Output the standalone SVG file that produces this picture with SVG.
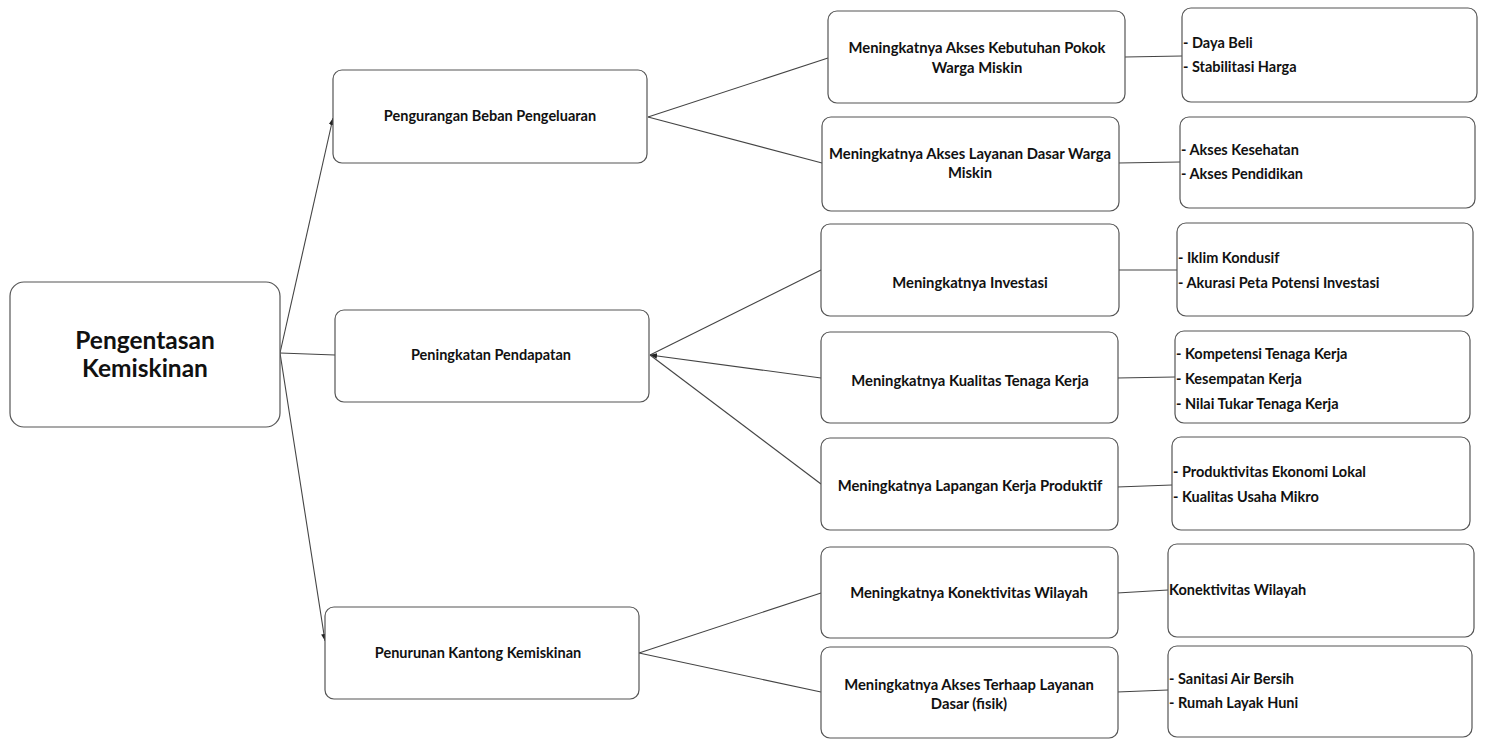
<svg xmlns="http://www.w3.org/2000/svg" width="1485" height="739" viewBox="0 0 1485 739">
<defs>
<marker id="arr" viewBox="0 0 10 10" refX="10" refY="5" markerWidth="7" markerHeight="7" orient="auto" markerUnits="userSpaceOnUse"><path d="M0,1 L10,5 L0,9 Z" fill="#222"/></marker>
<style>
.box{fill:#fff;stroke:#555;stroke-width:1.2}
.t{font-family:Lato,"Liberation Sans",sans-serif;font-weight:bold;fill:#111}
.root{font-size:24.5px;text-anchor:middle}
.l1{font-size:14.5px;text-anchor:middle}
.l2{font-size:14.8px;text-anchor:middle}
.l3{font-size:14.5px}
.c{fill:none;stroke:#444;stroke-width:1.1}
</style>
</defs>
<rect width="1485" height="739" fill="#fff"/>
<g id="connectors">
<path class="c" d="M280,353 L333,118" marker-end="url(#arr)"/>
<path class="c" d="M280,353 L335,355"/>
<path class="c" d="M280,353 L325,641" marker-end="url(#arr)"/>
<path class="c" d="M828,58 L648,117"/>
<path class="c" d="M822,163 L648,117"/>
<path class="c" d="M821,270 L650,355"/>
<path class="c" d="M821,378 L650,355" marker-end="url(#arr)"/>
<path class="c" d="M821,484 L650,355"/>
<path class="c" d="M821,593 L639,653"/>
<path class="c" d="M821,692 L639,653"/>
<path class="c" d="M1125,57 L1182,56"/>
<path class="c" d="M1118,163 L1180,162"/>
<path class="c" d="M1119,270 L1177,270"/>
<path class="c" d="M1117,378 L1175,377"/>
<path class="c" d="M1117,487 L1172,485"/>
<path class="c" d="M1117,593 L1168,590"/>
<path class="c" d="M1117,692 L1168,690"/>
</g>
<g id="root"><rect class="box" x="10" y="282" width="270" height="145" rx="14"/><text class="t root" x="145" y="349">Pengentasan</text><text class="t root" x="145" y="377">Kemiskinan</text></g>
<g id="n1a"><rect class="box" x="333" y="70" width="314" height="93" rx="9"/><text class="t l1" x="490" y="121">Pengurangan Beban Pengeluaran</text></g>
<g id="n1b"><rect class="box" x="335" y="310" width="314" height="92" rx="9"/><text class="t l1" x="491" y="360">Peningkatan Pendapatan</text></g>
<g id="n1c"><rect class="box" x="325" y="607" width="314" height="92" rx="9"/><text class="t l1" x="478" y="658">Penurunan Kantong Kemiskinan</text></g>
<g id="n2a"><rect class="box" x="828" y="11" width="297" height="92" rx="9"/><text class="t l2" x="977" y="53">Meningkatnya Akses Kebutuhan Pokok</text><text class="t l2" x="977" y="73">Warga Miskin</text></g>
<g id="n2b"><rect class="box" x="822" y="117" width="297" height="94" rx="9"/><text class="t l2" x="970" y="159">Meningkatnya Akses Layanan Dasar Warga</text><text class="t l2" x="970" y="178">Miskin</text></g>
<g id="n2c"><rect class="box" x="821" y="224" width="298" height="92" rx="9"/><text class="t l2" x="970" y="288">Meningkatnya Investasi</text></g>
<g id="n2d"><rect class="box" x="821" y="332" width="297" height="91" rx="9"/><text class="t l2" x="970" y="386">Meningkatnya Kualitas Tenaga Kerja</text></g>
<g id="n2e"><rect class="box" x="821" y="438" width="297" height="92" rx="9"/><text class="t l2" x="970" y="491">Meningkatnya Lapangan Kerja Produktif</text></g>
<g id="n2f"><rect class="box" x="821" y="547" width="297" height="91" rx="9"/><text class="t l2" x="969" y="598">Meningkatnya Konektivitas Wilayah</text></g>
<g id="n2g"><rect class="box" x="821" y="647" width="297" height="91" rx="9"/><text class="t l2" x="969" y="690">Meningkatnya Akses Terhaap Layanan</text><text class="t l2" x="969" y="709">Dasar (fisik)</text></g>
<g id="n3a"><rect class="box" x="1182" y="8" width="295" height="94" rx="9"/><text class="t l3" x="1183" y="48">- Daya Beli</text><text class="t l3" x="1183" y="72">- Stabilitasi Harga</text></g>
<g id="n3b"><rect class="box" x="1180" y="117" width="295" height="91" rx="9"/><text class="t l3" x="1181" y="155">- Akses Kesehatan</text><text class="t l3" x="1181" y="179">- Akses Pendidikan</text></g>
<g id="n3c"><rect class="box" x="1177" y="223" width="296" height="93" rx="9"/><text class="t l3" x="1178" y="263">- Iklim Kondusif</text><text class="t l3" x="1178" y="288">- Akurasi Peta Potensi Investasi</text></g>
<g id="n3d"><rect class="box" x="1175" y="331" width="295" height="92" rx="9"/><text class="t l3" x="1176" y="359">- Kompetensi Tenaga Kerja</text><text class="t l3" x="1176" y="384">- Kesempatan Kerja</text><text class="t l3" x="1176" y="409">- Nilai Tukar Tenaga Kerja</text></g>
<g id="n3e"><rect class="box" x="1172" y="437" width="298" height="93" rx="9"/><text class="t l3" x="1173" y="477">- Produktivitas Ekonomi Lokal</text><text class="t l3" x="1173" y="502">- Kualitas Usaha Mikro</text></g>
<g id="n3f"><rect class="box" x="1168" y="544" width="306" height="93" rx="9"/><text class="t l3" x="1169" y="595">Konektivitas Wilayah</text></g>
<g id="n3g"><rect class="box" x="1168" y="646" width="304" height="91" rx="9"/><text class="t l3" x="1169" y="684">- Sanitasi Air Bersih</text><text class="t l3" x="1169" y="708">- Rumah Layak Huni</text></g>
</svg>
